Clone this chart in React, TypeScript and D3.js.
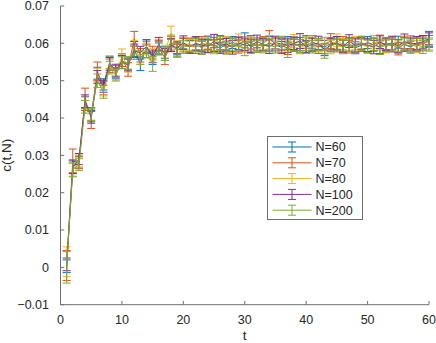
import React from "react";
import * as d3 from "d3";

const W = 436;
const H = 343;

const tValues: number[] = d3.range(1, 61);

const seriesNames = ["N=60", "N=70", "N=80", "N=100", "N=200"];
const seriesColors = ["#0072BD", "#D95319", "#EDB120", "#7E2F8E", "#77AC30"];

const c60 = [
  .0003, .0270, .0282, .0442, .0405, .0520, .0490, .0548, .0520, .0553,
  .0545, .0585, .0545, .0590, .0560, .0585, .0575, .0595, .0585, .0600,
  .0592, .0598, .0590, .0601, .0594, .0588, .0596, .0602, .0597, .0608,
  .0590, .0598, .0593, .0600, .0596, .0589, .0601, .0595, .0598, .0592,
  .0604, .0596, .0590, .0599, .0601, .0593, .0597, .0588, .0595, .0602,
  .0596, .0591, .0599, .0594, .0603, .0597, .0590, .0600, .0596, .0612,
];
const c70 = [
  .0005, .0285, .0280, .0450, .0400, .0525, .0480, .0540, .0525, .0555,
  .0530, .0612, .0568, .0580, .0575, .0590, .0560, .0600, .0580, .0595,
  .0595, .0590, .0600, .0593, .0598, .0602, .0590, .0596, .0591, .0599,
  .0603, .0594, .0600, .0614, .0597, .0593, .0588, .0599, .0592, .0604,
  .0596, .0590, .0598, .0606, .0594, .0600, .0591, .0597, .0602, .0593,
  .0598, .0604, .0592, .0597, .0586, .0599, .0603, .0595, .0600, .0605,
];
const c80 = [
  .0015, .0260, .0285, .0440, .0408, .0515, .0475, .0550, .0518, .0565,
  .0540, .0590, .0560, .0585, .0570, .0595, .0578, .0628, .0590, .0598,
  .0598, .0593, .0596, .0604, .0590, .0597, .0601, .0593, .0608, .0592,
  .0596, .0599, .0590, .0603, .0595, .0600, .0598, .0606, .0588, .0597,
  .0602, .0594, .0599, .0590, .0608, .0597, .0593, .0601, .0596, .0591,
  .0604, .0598, .0593, .0600, .0595, .0602, .0597, .0591, .0599, .0594,
];
const c100 = [
  .0008, .0268, .0290, .0445, .0402, .0510, .0485, .0545, .0528, .0550,
  .0542, .0580, .0575, .0592, .0565, .0598, .0570, .0595, .0588, .0602,
  .0590, .0600, .0595, .0592, .0606, .0594, .0598, .0589, .0600, .0596,
  .0593, .0605, .0597, .0591, .0602, .0598, .0594, .0600, .0606, .0590,
  .0597, .0601, .0583, .0596, .0600, .0592, .0606, .0594, .0599, .0595,
  .0590, .0603, .0597, .0601, .0593, .0605, .0598, .0600, .0604, .0612,
];
const c200 = [
  .0000, .0262, .0275, .0430, .0410, .0500, .0470, .0535, .0515, .0548,
  .0548, .0575, .0562, .0578, .0545, .0588, .0572, .0605, .0582, .0590,
  .0593, .0596, .0588, .0598, .0592, .0600, .0587, .0597, .0594, .0585,
  .0600, .0592, .0598, .0595, .0590, .0601, .0582, .0596, .0593, .0599,
  .0591, .0597, .0580, .0594, .0598, .0590, .0596, .0589, .0600, .0592,
  .0597, .0588, .0595, .0599, .0591, .0597, .0593, .0596, .0590, .0598,
];

const e60 = [
  .0017, .0018, .0016, .0016, .0015, .0016, .0015, .0016, .0015, .0015,
  .0016, .0020, .0018, .0016, .0017, .0016, .0016, .0017, .0016, .0015,
  .0016, .0017, .0016, .0018, .0016, .0015, .0017, .0016, .0018, .0020,
  .0016, .0017, .0016, .0018, .0017, .0016, .0017, .0016, .0018, .0016,
  .0017, .0016, .0018, .0016, .0017, .0016, .0018, .0016, .0017, .0016,
  .0017, .0018, .0016, .0017, .0016, .0019, .0016, .0017, .0016, .0020,
];
const e70 = [
  .0040, .0032, .0016, .0030, .0028, .0025, .0018, .0018, .0016, .0017,
  .0018, .0020, .0018, .0018, .0017, .0018, .0017, .0018, .0017, .0018,
  .0018, .0017, .0018, .0017, .0018, .0019, .0016, .0018, .0017, .0018,
  .0018, .0017, .0018, .0020, .0018, .0017, .0018, .0017, .0018, .0017,
  .0018, .0017, .0018, .0020, .0017, .0018, .0017, .0018, .0017, .0018,
  .0017, .0018, .0017, .0018, .0017, .0018, .0017, .0018, .0017, .0016,
];
const e80 = [
  .0040, .0018, .0016, .0016, .0015, .0018, .0016, .0017, .0016, .0020,
  .0017, .0018, .0017, .0016, .0017, .0016, .0017, .0018, .0017, .0018,
  .0017, .0016, .0018, .0017, .0018, .0016, .0017, .0018, .0017, .0016,
  .0018, .0017, .0016, .0018, .0017, .0016, .0017, .0018, .0016, .0017,
  .0018, .0017, .0016, .0018, .0017, .0016, .0018, .0017, .0016, .0018,
  .0017, .0016, .0017, .0018, .0016, .0017, .0018, .0016, .0017, .0016,
];
const e100 = [
  .0017, .0017, .0015, .0017, .0016, .0017, .0016, .0017, .0016, .0017,
  .0016, .0018, .0017, .0018, .0017, .0018, .0016, .0017, .0016, .0018,
  .0017, .0018, .0016, .0017, .0018, .0017, .0016, .0018, .0017, .0016,
  .0018, .0017, .0016, .0018, .0017, .0016, .0018, .0017, .0020, .0016,
  .0017, .0018, .0016, .0017, .0018, .0016, .0017, .0018, .0016, .0017,
  .0018, .0017, .0016, .0018, .0017, .0020, .0016, .0018, .0017, .0016,
];
const e200 = [
  .0042, .0018, .0016, .0017, .0016, .0018, .0017, .0017, .0016, .0016,
  .0017, .0018, .0018, .0017, .0020, .0017, .0018, .0017, .0018, .0017,
  .0016, .0017, .0018, .0016, .0017, .0018, .0016, .0017, .0016, .0018,
  .0017, .0016, .0018, .0017, .0016, .0018, .0020, .0016, .0017, .0018,
  .0017, .0016, .0020, .0017, .0016, .0018, .0017, .0016, .0018, .0017,
  .0016, .0018, .0017, .0016, .0018, .0017, .0016, .0018, .0017, .0016,
];

const seriesValues = [c60, c70, c80, c100, c200];
const seriesErrors = [e60, e70, e80, e100, e200];

const xTicks = [0, 10, 20, 30, 40, 50, 60];
const yTicks = [-0.01, 0, 0.01, 0.02, 0.03, 0.04, 0.05, 0.06, 0.07];

const FONT = "'Liberation Sans', Arial, Helvetica, sans-serif";

export default function App() {
  const left = 60.5;
  const right = 429;
  const top = 6;
  const bottom = 304.7;
  const x = d3.scaleLinear().domain([0, 60]).range([left, right]);
  const y = d3.scaleLinear().domain([-0.01, 0.07]).range([bottom, top]);
  const cap = 4;
  const line = d3
    .line<number>()
    .x((_, i) => x(tValues[i]))
    .y((d) => y(d));
  const axisColor = "#6e6e6e";
  const textColor = "#262626";

  const legX = 267.5;
  const legY = 136.5;
  const legW = 95;
  const legH = 83;
  const rowH = 15.8;

  return (
    <svg
      width={W}
      height={H}
      style={{ position: "absolute", left: 0, top: 0, background: "#fff" }}
      fontFamily={FONT}
    >
      <rect x={0} y={0} width={W} height={H} fill="#fff" />
      {seriesValues.map((vals, si) => (
        <g key={si} stroke={seriesColors[si]} fill="none" strokeWidth={1}>
          <path d={line(vals) || ""} />
          {vals.map((v, i) => {
            const e = seriesErrors[si][i];
            const cx = x(tValues[i]);
            const y1 = y(v + e);
            const y0 = y(v - e);
            return (
              <g key={i}>
                <line x1={cx} x2={cx} y1={y1} y2={y0} />
                <line x1={cx - cap} x2={cx + cap} y1={y1} y2={y1} />
                <line x1={cx - cap} x2={cx + cap} y1={y0} y2={y0} />
              </g>
            );
          })}
        </g>
      ))}
      <g stroke={axisColor} strokeWidth={1} fill="none">
        <line x1={left} x2={left} y1={top} y2={bottom} />
        <line x1={left} x2={right} y1={bottom} y2={bottom} />
        {xTicks.map((t) => (
          <line key={t} x1={x(t)} x2={x(t)} y1={bottom} y2={bottom - 3.7} />
        ))}
        {yTicks.map((t) => (
          <line key={t} x1={left} x2={left + 3.7} y1={y(t)} y2={y(t)} />
        ))}
      </g>
      <g fill={textColor} fontSize={12.5}>
        {xTicks.map((t) => (
          <text key={t} x={x(t)} y={bottom + 19.5} textAnchor="middle">
            {t}
          </text>
        ))}
        {yTicks.map((t) => (
          <text key={t} x={left - 11.5} y={y(t) + 4.4} textAnchor="end">
            {t === 0 ? "0" : d3.format(".2f")(t)}
          </text>
        ))}
        <text x={(left + right) / 2} y={339.5} textAnchor="middle" fontSize={13.5}>
          t
        </text>
        <text
          transform={`translate(10.5, ${(top + bottom) / 2}) rotate(-90)`}
          textAnchor="middle"
          fontSize={13.5}
        >
          c(t,N)
        </text>
      </g>
      <g>
        <rect
          x={legX}
          y={legY}
          width={legW}
          height={legH}
          fill="#fff"
          stroke={axisColor}
          strokeWidth={1}
        />
        {seriesNames.map((name, i) => {
          const cy = legY + 10.5 + i * rowH;
          const lx0 = legX + 5;
          const lx1 = legX + 44;
          const mx = (lx0 + lx1) / 2;
          return (
            <g key={name}>
              <g stroke={seriesColors[i]} strokeWidth={1}>
                <line x1={lx0} x2={lx1} y1={cy} y2={cy} />
                <line x1={mx} x2={mx} y1={cy - 5} y2={cy + 5} />
                <line x1={mx - cap} x2={mx + cap} y1={cy - 5} y2={cy - 5} />
                <line x1={mx - cap} x2={mx + cap} y1={cy + 5} y2={cy + 5} />
              </g>
              <text x={legX + 48} y={cy + 4.4} fontSize={12.5} fill={textColor}>
                {name}
              </text>
            </g>
          );
        })}
      </g>
    </svg>
  );
}
